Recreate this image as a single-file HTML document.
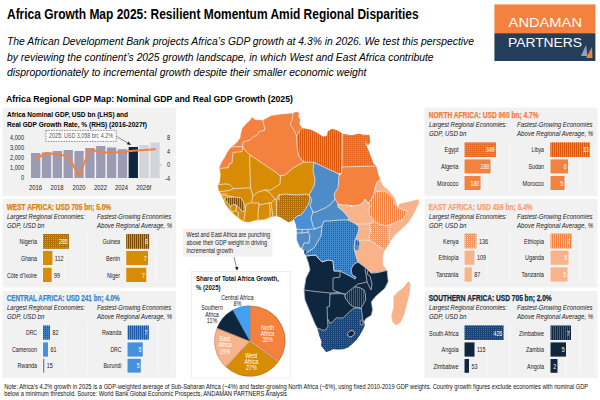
<!DOCTYPE html>
<html><head><meta charset="utf-8"><title>Africa Growth Map 2025</title>
<style>
html,body{margin:0;padding:0;background:#fff;}
body{width:600px;height:400px;overflow:hidden;font-family:"Liberation Sans", sans-serif;}
svg{display:block;font-family:"Liberation Sans", sans-serif;}
svg text{font-family:"Liberation Sans", sans-serif;}
</style></head><body>
<svg width="600" height="400" viewBox="0 0 600 400">
<defs>
</defs>
<text x="7" y="19" font-size="13.8" font-weight="bold" font-style="normal" fill="#000" text-anchor="start" textLength="411.60" lengthAdjust="spacingAndGlyphs" >Africa Growth Map 2025: Resilient Momentum Amid Regional Disparities</text>
<text x="7" y="45" font-size="11.3" font-weight="normal" font-style="italic" fill="#000" text-anchor="start" textLength="467.00" lengthAdjust="spacingAndGlyphs" >The African Development Bank projects Africa’s GDP growth at 4.3% in 2026. We test this perspective</text>
<text x="7" y="60.6" font-size="11.3" font-weight="normal" font-style="italic" fill="#000" text-anchor="start" textLength="426.60" lengthAdjust="spacingAndGlyphs" >by reviewing the continent’s 2025 growth landscape, in which West and East Africa contribute</text>
<text x="7" y="76" font-size="11.3" font-weight="normal" font-style="italic" fill="#000" text-anchor="start" textLength="359.40" lengthAdjust="spacingAndGlyphs" >disproportionately to incremental growth despite their smaller economic weight</text>
<text x="6" y="101.6" font-size="9.8" font-weight="bold" font-style="normal" fill="#000" text-anchor="start" textLength="287.00" lengthAdjust="spacingAndGlyphs" >Africa Regional GDP Map: Nominal GDP and Real GDP Growth (2025)</text>
<rect x="494.4" y="4.4" width="101" height="28.8" fill="#f5813f"/>
<rect x="494.4" y="33.2" width="101" height="27.8" fill="#243f5c"/>
<text x="508.6" y="27.3" font-size="12" font-weight="normal" font-style="normal" fill="#fff" text-anchor="start" textLength="73.40" lengthAdjust="spacingAndGlyphs" >ANDAMAN</text>
<text x="508" y="47.3" font-size="12" font-weight="normal" font-style="normal" fill="#fff" text-anchor="start" textLength="74.00" lengthAdjust="spacingAndGlyphs" >PARTNERS</text>
<polygon points="581,56 586,45 587.5,56" fill="#9aa0b4"/>
<polygon points="586,58 592,47 592.4,58" fill="#f5813f"/>
<rect x="2.5" y="107.6" width="173.4" height="88.15" fill="#f1f1f1"/>
<text x="7" y="117" font-size="7.4" font-weight="bold" font-style="normal" fill="#000" text-anchor="start" textLength="121.00" lengthAdjust="spacingAndGlyphs" >Africa Nominal GDP, USD bn (LHS) and</text>
<text x="7" y="126.6" font-size="7.4" font-weight="bold" font-style="normal" fill="#000" text-anchor="start" textLength="140.00" lengthAdjust="spacingAndGlyphs" >Real GDP Growth Rate, % (RHS) (2016-2027f)</text>
<rect x="31" y="153" width="9.3" height="25" fill="#9b9bb4"/>
<rect x="41.85" y="152.4" width="9.3" height="25.6" fill="#9b9bb4"/>
<rect x="52.7" y="151" width="9.3" height="27" fill="#9b9bb4"/>
<rect x="63.55" y="150" width="9.3" height="28" fill="#9b9bb4"/>
<rect x="74.4" y="151" width="9.3" height="27" fill="#9b9bb4"/>
<rect x="85.25" y="148" width="9.3" height="30" fill="#9b9bb4"/>
<rect x="96.1" y="146" width="9.3" height="32" fill="#9b9bb4"/>
<rect x="106.95" y="147.5" width="9.3" height="30.5" fill="#9b9bb4"/>
<rect x="117.8" y="149.2" width="9.3" height="28.8" fill="#9b9bb4"/>
<rect x="128.65" y="147" width="9.3" height="31" fill="#10253f"/>
<rect x="139.5" y="145" width="9.3" height="33" fill="#d3d3dc"/>
<rect x="150.35" y="142.5" width="9.3" height="35.5" fill="#d3d3dc"/>
<text x="24" y="140.4" font-size="6.8" font-weight="normal" font-style="normal" fill="#222" text-anchor="end" textLength="13.95" lengthAdjust="spacingAndGlyphs" class="n">4,000</text>
<text x="24" y="150.2" font-size="6.8" font-weight="normal" font-style="normal" fill="#222" text-anchor="end" textLength="13.95" lengthAdjust="spacingAndGlyphs" class="n">3,000</text>
<text x="24" y="160.2" font-size="6.8" font-weight="normal" font-style="normal" fill="#222" text-anchor="end" textLength="13.95" lengthAdjust="spacingAndGlyphs" class="n">2,000</text>
<text x="24" y="170.2" font-size="6.8" font-weight="normal" font-style="normal" fill="#222" text-anchor="end" textLength="13.95" lengthAdjust="spacingAndGlyphs" class="n">1,000</text>
<text x="24" y="180.4" font-size="6.8" font-weight="normal" font-style="normal" fill="#222" text-anchor="end" textLength="3.10" lengthAdjust="spacingAndGlyphs" class="n">0</text>
<text x="170" y="140.4" font-size="6.8" font-weight="normal" font-style="normal" fill="#222" text-anchor="end" textLength="3.10" lengthAdjust="spacingAndGlyphs" class="n">8</text>
<text x="170" y="153.7" font-size="6.8" font-weight="normal" font-style="normal" fill="#222" text-anchor="end" textLength="3.10" lengthAdjust="spacingAndGlyphs" class="n">4</text>
<text x="170" y="167.4" font-size="6.8" font-weight="normal" font-style="normal" fill="#222" text-anchor="end" textLength="3.10" lengthAdjust="spacingAndGlyphs" class="n">0</text>
<text x="170" y="180.7" font-size="6.8" font-weight="normal" font-style="normal" fill="#222" text-anchor="end" textLength="4.96" lengthAdjust="spacingAndGlyphs" class="n">-4</text>
<line x1="159.5" y1="165" x2="161.5" y2="165" stroke="#888" stroke-width="0.6"/>
<text x="35.5" y="190" font-size="6.8" font-weight="normal" font-style="normal" fill="#222" text-anchor="middle" textLength="13.00" lengthAdjust="spacingAndGlyphs" >2016</text>
<text x="57.1" y="190" font-size="6.8" font-weight="normal" font-style="normal" fill="#222" text-anchor="middle" textLength="13.00" lengthAdjust="spacingAndGlyphs" >2018</text>
<text x="79.1" y="190" font-size="6.8" font-weight="normal" font-style="normal" fill="#222" text-anchor="middle" textLength="13.00" lengthAdjust="spacingAndGlyphs" >2020</text>
<text x="100.5" y="190" font-size="6.8" font-weight="normal" font-style="normal" fill="#222" text-anchor="middle" textLength="13.00" lengthAdjust="spacingAndGlyphs" >2022</text>
<text x="121.6" y="190" font-size="6.8" font-weight="normal" font-style="normal" fill="#222" text-anchor="middle" textLength="13.00" lengthAdjust="spacingAndGlyphs" >2024</text>
<text x="143.7" y="190" font-size="6.8" font-weight="normal" font-style="normal" fill="#222" text-anchor="middle" textLength="15.00" lengthAdjust="spacingAndGlyphs" >2026f</text>
<polyline points="35.6,159 46.5,153 57.3,154.4 68.2,156 79,176 89.9,149 100.7,152.5 111.6,152.5 122.4,152 133.3,150.75 144.1,150 155,149.25" fill="none" stroke="#f5813f" stroke-width="2" stroke-linejoin="round" stroke-linecap="round"/>
<rect x="45.8" y="130.4" width="70.4" height="11" fill="#fff" stroke="#444" stroke-width="0.6" stroke-dasharray="1.6,1"/>
<text x="49" y="138.4" font-size="6.3" font-weight="normal" font-style="normal" fill="#555" text-anchor="start" textLength="64.00" lengthAdjust="spacingAndGlyphs" >2025: USD 3,058 bn; 4.2%</text>
<line x1="116.4" y1="136.5" x2="129" y2="143.6" stroke="#222" stroke-width="0.5"/>
<polygon points="131,145 126.8,144.2 128.6,141.4" fill="#111"/>
<rect x="2.5" y="199" width="173.4" height="88.5" fill="#f1f1f1"/>
<text x="6.7" y="210" font-size="8.3" font-weight="bold" font-style="normal" fill="#d9820b" text-anchor="start" textLength="104.40" lengthAdjust="spacingAndGlyphs" stroke="#d9820b" stroke-width="0.25">WEST AFRICA: USD 705 bn; 5.0%</text>
<text x="7" y="218.6" font-size="7.5" font-weight="normal" font-style="italic" fill="#222" text-anchor="start" textLength="78.00" lengthAdjust="spacingAndGlyphs" >Largest Regional Economies:</text>
<text x="7" y="228" font-size="7.5" font-weight="normal" font-style="italic" fill="#222" text-anchor="start" textLength="37.40" lengthAdjust="spacingAndGlyphs" >GDP, USD bn</text>
<text x="97" y="218.6" font-size="7.5" font-weight="normal" font-style="italic" fill="#222" text-anchor="start" textLength="74.30" lengthAdjust="spacingAndGlyphs" >Fastest-Growing Economies</text>
<text x="97" y="228" font-size="7.5" font-weight="normal" font-style="italic" fill="#222" text-anchor="start" textLength="75.10" lengthAdjust="spacingAndGlyphs" >Above Regional Average, %</text>
<line x1="43" y1="232.9" x2="43" y2="283.4" stroke="#fbfbfb" stroke-width="0.8"/>
<line x1="65.3" y1="232.9" x2="65.3" y2="283.4" stroke="#fbfbfb" stroke-width="0.8"/>
<line x1="87.7" y1="232.9" x2="87.7" y2="283.4" stroke="#fbfbfb" stroke-width="0.8"/>
<line x1="126.3" y1="232.9" x2="126.3" y2="283.4" stroke="#fbfbfb" stroke-width="0.8"/>
<line x1="141.4" y1="232.9" x2="141.4" y2="283.4" stroke="#fbfbfb" stroke-width="0.8"/>
<line x1="156.5" y1="232.9" x2="156.5" y2="283.4" stroke="#fbfbfb" stroke-width="0.8"/>
<line x1="171.5" y1="232.9" x2="171.5" y2="283.4" stroke="#fbfbfb" stroke-width="0.8"/>
<clipPath id="hc1"><polygon points="43,234 69,234 69,248.8 43,248.8"/></clipPath>
<polygon points="43,234 69,234 69,248.8 43,248.8" fill="#b57005" />
<path d="M41,233.5H71M41,235.5H71M41,237.5H71M41,239.5H71M41,241.5H71M41,243.5H71M41,245.5H71M41,247.5H71M41,249.5H71" stroke="#e8980a" stroke-width="1" stroke-dasharray="1 1" fill="none" clip-path="url(#hc1)"/>
<text x="37" y="244.1" font-size="6.4" font-weight="normal" font-style="normal" fill="#222" text-anchor="end" textLength="17.50" lengthAdjust="spacingAndGlyphs" >Nigeria</text>
<text x="67.8" y="244.1" font-size="6.6" font-weight="normal" font-style="normal" fill="#fff" text-anchor="end" textLength="8.81" lengthAdjust="spacingAndGlyphs" >285</text>
<rect x="43" y="251" width="9.4" height="14" fill="#d88c03"/>
<text x="37" y="260.7" font-size="6.4" font-weight="normal" font-style="normal" fill="#222" text-anchor="end" textLength="16.00" lengthAdjust="spacingAndGlyphs" >Ghana</text>
<text x="54.8" y="260.7" font-size="6.6" font-weight="normal" font-style="normal" fill="#222" text-anchor="start" textLength="8.63" lengthAdjust="spacingAndGlyphs" >112</text>
<rect x="43" y="267.8" width="8.6" height="14.2" fill="#d88c03"/>
<text x="37" y="277.6" font-size="6.4" font-weight="normal" font-style="normal" fill="#222" text-anchor="end" textLength="30.00" lengthAdjust="spacingAndGlyphs" >Côte d’Ivoire</text>
<text x="54" y="277.6" font-size="6.6" font-weight="normal" font-style="normal" fill="#222" text-anchor="start" textLength="6.02" lengthAdjust="spacingAndGlyphs" >99</text>
<clipPath id="hc2"><polygon points="126.25,234 149.25,234 149.25,248.8 126.25,248.8"/></clipPath>
<polygon points="126.25,234 149.25,234 149.25,248.8 126.25,248.8" fill="#e0920a" />
<path d="M124.5,233.0V249.8M126.5,233.0V249.8M128.5,233.0V249.8M130.5,233.0V249.8M132.5,233.0V249.8M134.5,233.0V249.8M136.5,233.0V249.8M138.5,233.0V249.8M140.5,233.0V249.8M142.5,233.0V249.8M144.5,233.0V249.8M146.5,233.0V249.8M148.5,233.0V249.8" stroke="#6e4100" stroke-width="0.9" fill="none" clip-path="url(#hc2)"/>
<text x="120" y="244.1" font-size="6.4" font-weight="normal" font-style="normal" fill="#222" text-anchor="end" textLength="17.50" lengthAdjust="spacingAndGlyphs" >Guinea</text>
<text x="148.05" y="244.1" font-size="6.6" font-weight="normal" font-style="normal" fill="#fff" text-anchor="end" textLength="2.94" lengthAdjust="spacingAndGlyphs" >8</text>
<rect x="126.25" y="251" width="21.75" height="14" fill="#d88c03"/>
<text x="120" y="260.7" font-size="6.4" font-weight="normal" font-style="normal" fill="#222" text-anchor="end" textLength="14.00" lengthAdjust="spacingAndGlyphs" >Benin</text>
<text x="146.8" y="260.7" font-size="6.6" font-weight="normal" font-style="normal" fill="#fff" text-anchor="end" textLength="2.94" lengthAdjust="spacingAndGlyphs" >7</text>
<rect x="126.25" y="267.8" width="20" height="14.2" fill="#d88c03"/>
<text x="120" y="277.6" font-size="6.4" font-weight="normal" font-style="normal" fill="#222" text-anchor="end" textLength="13.00" lengthAdjust="spacingAndGlyphs" >Niger</text>
<text x="145.05" y="277.6" font-size="6.6" font-weight="normal" font-style="normal" fill="#fff" text-anchor="end" textLength="2.94" lengthAdjust="spacingAndGlyphs" >7</text>
<rect x="2.5" y="291" width="173.4" height="87" fill="#f1f1f1"/>
<text x="6.7" y="301.1" font-size="8.3" font-weight="bold" font-style="normal" fill="#3d85d0" text-anchor="start" textLength="113.00" lengthAdjust="spacingAndGlyphs" stroke="#3d85d0" stroke-width="0.25">CENTRAL AFRICA: USD 241 bn; 4.0%</text>
<text x="7" y="309.7" font-size="7.5" font-weight="normal" font-style="italic" fill="#222" text-anchor="start" textLength="78.00" lengthAdjust="spacingAndGlyphs" >Largest Regional Economies:</text>
<text x="7" y="319.1" font-size="7.5" font-weight="normal" font-style="italic" fill="#222" text-anchor="start" textLength="37.40" lengthAdjust="spacingAndGlyphs" >GDP, USD bn</text>
<text x="97" y="309.7" font-size="7.5" font-weight="normal" font-style="italic" fill="#222" text-anchor="start" textLength="74.30" lengthAdjust="spacingAndGlyphs" >Fastest-Growing Economies</text>
<text x="97" y="319.1" font-size="7.5" font-weight="normal" font-style="italic" fill="#222" text-anchor="start" textLength="75.10" lengthAdjust="spacingAndGlyphs" >Above Regional Average, %</text>
<line x1="43" y1="324" x2="43" y2="374.5" stroke="#fbfbfb" stroke-width="0.8"/>
<line x1="65.3" y1="324" x2="65.3" y2="374.5" stroke="#fbfbfb" stroke-width="0.8"/>
<line x1="87.7" y1="324" x2="87.7" y2="374.5" stroke="#fbfbfb" stroke-width="0.8"/>
<line x1="127.5" y1="324" x2="127.5" y2="374.5" stroke="#fbfbfb" stroke-width="0.8"/>
<line x1="142.6" y1="324" x2="142.6" y2="374.5" stroke="#fbfbfb" stroke-width="0.8"/>
<line x1="157.75" y1="324" x2="157.75" y2="374.5" stroke="#fbfbfb" stroke-width="0.8"/>
<line x1="173" y1="324" x2="173" y2="374.5" stroke="#fbfbfb" stroke-width="0.8"/>
<clipPath id="hc3"><polygon points="43,325.6 50,325.6 50,339.6 43,339.6"/></clipPath>
<polygon points="43,325.6 50,325.6 50,339.6 43,339.6" fill="#3a80c8" />
<path d="M41,323.5H52M41,325.5H52M41,327.5H52M41,329.5H52M41,331.5H52M41,333.5H52M41,335.5H52M41,337.5H52M41,339.5H52" stroke="#1a55a0" stroke-width="1" stroke-dasharray="1 1" fill="none" clip-path="url(#hc3)"/>
<text x="37" y="335.3" font-size="6.4" font-weight="normal" font-style="normal" fill="#222" text-anchor="end" textLength="11.00" lengthAdjust="spacingAndGlyphs" >DRC</text>
<text x="52.4" y="335.3" font-size="6.6" font-weight="normal" font-style="normal" fill="#222" text-anchor="start" textLength="6.02" lengthAdjust="spacingAndGlyphs" >82</text>
<rect x="43" y="342.4" width="5" height="14.2" fill="#4690de"/>
<text x="37" y="352.2" font-size="6.4" font-weight="normal" font-style="normal" fill="#222" text-anchor="end" textLength="25.00" lengthAdjust="spacingAndGlyphs" >Cameroon</text>
<text x="50.4" y="352.2" font-size="6.6" font-weight="normal" font-style="normal" fill="#222" text-anchor="start" textLength="6.02" lengthAdjust="spacingAndGlyphs" >61</text>
<rect x="43" y="358.8" width="1.3" height="13.8" fill="#4690de"/>
<text x="37" y="368.4" font-size="6.4" font-weight="normal" font-style="normal" fill="#222" text-anchor="end" textLength="19.50" lengthAdjust="spacingAndGlyphs" >Rwanda</text>
<text x="46.7" y="368.4" font-size="6.6" font-weight="normal" font-style="normal" fill="#222" text-anchor="start" textLength="6.02" lengthAdjust="spacingAndGlyphs" >15</text>
<clipPath id="hc4"><polygon points="127.5,325.6 148.75,325.6 148.75,339.6 127.5,339.6"/></clipPath>
<polygon points="127.5,325.6 148.75,325.6 148.75,339.6 127.5,339.6" fill="#4a90e0" />
<path d="M126.5,324.6V340.6M128.5,324.6V340.6M130.5,324.6V340.6M132.5,324.6V340.6M134.5,324.6V340.6M136.5,324.6V340.6M138.5,324.6V340.6M140.5,324.6V340.6M142.5,324.6V340.6M144.5,324.6V340.6M146.5,324.6V340.6M148.5,324.6V340.6" stroke="#1c5aa8" stroke-width="1.0" fill="none" clip-path="url(#hc4)"/>
<text x="121.4" y="335.3" font-size="6.4" font-weight="normal" font-style="normal" fill="#222" text-anchor="end" textLength="19.50" lengthAdjust="spacingAndGlyphs" >Rwanda</text>
<text x="147.55" y="335.3" font-size="6.6" font-weight="normal" font-style="normal" fill="#fff" text-anchor="end" textLength="2.94" lengthAdjust="spacingAndGlyphs" >7</text>
<rect x="127.5" y="342.4" width="15.25" height="14.2" fill="#4690de"/>
<text x="121.4" y="352.2" font-size="6.4" font-weight="normal" font-style="normal" fill="#222" text-anchor="end" textLength="11.00" lengthAdjust="spacingAndGlyphs" >DRC</text>
<text x="141.55" y="352.2" font-size="6.6" font-weight="normal" font-style="normal" fill="#fff" text-anchor="end" textLength="2.94" lengthAdjust="spacingAndGlyphs" >5</text>
<rect x="127.5" y="358.8" width="13.3" height="13.8" fill="#4690de"/>
<text x="121.4" y="368.4" font-size="6.4" font-weight="normal" font-style="normal" fill="#222" text-anchor="end" textLength="18.00" lengthAdjust="spacingAndGlyphs" >Burundi</text>
<text x="139.6" y="368.4" font-size="6.6" font-weight="normal" font-style="normal" fill="#fff" text-anchor="end" textLength="2.94" lengthAdjust="spacingAndGlyphs" >5</text>
<rect x="424.5" y="107.6" width="173" height="88.15" fill="#f1f1f1"/>
<text x="428.7" y="118.4" font-size="8.3" font-weight="bold" font-style="normal" fill="#f47d3f" text-anchor="start" textLength="110.00" lengthAdjust="spacingAndGlyphs" stroke="#f47d3f" stroke-width="0.25">NORTH AFRICA: USD 960 bn; 4.7%</text>
<text x="429" y="127" font-size="7.5" font-weight="normal" font-style="italic" fill="#222" text-anchor="start" textLength="78.00" lengthAdjust="spacingAndGlyphs" >Largest Regional Economies:</text>
<text x="429" y="136.4" font-size="7.5" font-weight="normal" font-style="italic" fill="#222" text-anchor="start" textLength="37.40" lengthAdjust="spacingAndGlyphs" >GDP, USD bn</text>
<text x="517" y="127" font-size="7.5" font-weight="normal" font-style="italic" fill="#222" text-anchor="start" textLength="75.50" lengthAdjust="spacingAndGlyphs" >Fastest-Growing Economies</text>
<text x="517" y="136.4" font-size="7.5" font-weight="normal" font-style="italic" fill="#222" text-anchor="start" textLength="76.30" lengthAdjust="spacingAndGlyphs" >Above Regional Average, %</text>
<line x1="464.5" y1="141.3" x2="464.5" y2="191.8" stroke="#fbfbfb" stroke-width="0.8"/>
<line x1="487" y1="141.3" x2="487" y2="191.8" stroke="#fbfbfb" stroke-width="0.8"/>
<line x1="509.5" y1="141.3" x2="509.5" y2="191.8" stroke="#fbfbfb" stroke-width="0.8"/>
<line x1="550.5" y1="141.3" x2="550.5" y2="191.8" stroke="#fbfbfb" stroke-width="0.8"/>
<line x1="565.5" y1="141.3" x2="565.5" y2="191.8" stroke="#fbfbfb" stroke-width="0.8"/>
<line x1="580.5" y1="141.3" x2="580.5" y2="191.8" stroke="#fbfbfb" stroke-width="0.8"/>
<line x1="595.5" y1="141.3" x2="595.5" y2="191.8" stroke="#fbfbfb" stroke-width="0.8"/>
<clipPath id="hc5"><polygon points="464.5,142.4 496,142.4 496,157 464.5,157"/></clipPath>
<polygon points="464.5,142.4 496,142.4 496,157 464.5,157" fill="#ec6c25" />
<path d="M463,141.5H498M463,143.5H498M463,145.5H498M463,147.5H498M463,149.5H498M463,151.5H498M463,153.5H498M463,155.5H498M463,157.5H498" stroke="#f68c4b" stroke-width="1" stroke-dasharray="1 1" fill="none" clip-path="url(#hc5)"/>
<text x="458.5" y="152.4" font-size="6.4" font-weight="normal" font-style="normal" fill="#222" text-anchor="end" textLength="14.00" lengthAdjust="spacingAndGlyphs" >Egypt</text>
<text x="494.8" y="152.4" font-size="6.6" font-weight="normal" font-style="normal" fill="#fff" text-anchor="end" textLength="8.81" lengthAdjust="spacingAndGlyphs" >349</text>
<rect x="464.5" y="159.4" width="26" height="14" fill="#f4813e"/>
<text x="458.5" y="169.1" font-size="6.4" font-weight="normal" font-style="normal" fill="#222" text-anchor="end" textLength="17.50" lengthAdjust="spacingAndGlyphs" >Algeria</text>
<text x="489.3" y="169.1" font-size="6.6" font-weight="normal" font-style="normal" fill="#fff" text-anchor="end" textLength="8.81" lengthAdjust="spacingAndGlyphs" >288</text>
<rect x="464.5" y="176" width="16" height="14" fill="#f4813e"/>
<text x="458.5" y="185.7" font-size="6.4" font-weight="normal" font-style="normal" fill="#222" text-anchor="end" textLength="21.50" lengthAdjust="spacingAndGlyphs" >Morocco</text>
<text x="479.3" y="185.7" font-size="6.6" font-weight="normal" font-style="normal" fill="#fff" text-anchor="end" textLength="8.81" lengthAdjust="spacingAndGlyphs" >180</text>
<clipPath id="hc6"><polygon points="550.5,142.4 590,142.4 590,157 550.5,157"/></clipPath>
<polygon points="550.5,142.4 590,142.4 590,157 550.5,157" fill="#f58240" />
<path d="M548.5,141.4V158.0M550.5,141.4V158.0M552.5,141.4V158.0M554.5,141.4V158.0M556.5,141.4V158.0M558.5,141.4V158.0M560.5,141.4V158.0M562.5,141.4V158.0M564.5,141.4V158.0M566.5,141.4V158.0M568.5,141.4V158.0M570.5,141.4V158.0M572.5,141.4V158.0M574.5,141.4V158.0M576.5,141.4V158.0M578.5,141.4V158.0M580.5,141.4V158.0M582.5,141.4V158.0M584.5,141.4V158.0M586.5,141.4V158.0M588.5,141.4V158.0M590.5,141.4V158.0" stroke="#de580c" stroke-width="1.0" fill="none" clip-path="url(#hc6)"/>
<text x="544" y="152.4" font-size="6.4" font-weight="normal" font-style="normal" fill="#222" text-anchor="end" textLength="12.50" lengthAdjust="spacingAndGlyphs" >Libya</text>
<text x="588.8" y="152.4" font-size="6.6" font-weight="normal" font-style="normal" fill="#fff" text-anchor="end" textLength="5.87" lengthAdjust="spacingAndGlyphs" >13</text>
<rect x="550.5" y="159.4" width="17.5" height="14" fill="#f4813e"/>
<text x="544" y="169.1" font-size="6.4" font-weight="normal" font-style="normal" fill="#222" text-anchor="end" textLength="15.50" lengthAdjust="spacingAndGlyphs" >Sudan</text>
<text x="566.8" y="169.1" font-size="6.6" font-weight="normal" font-style="normal" fill="#fff" text-anchor="end" textLength="2.94" lengthAdjust="spacingAndGlyphs" >6</text>
<rect x="550.5" y="176" width="14" height="14" fill="#f4813e"/>
<text x="544" y="185.7" font-size="6.4" font-weight="normal" font-style="normal" fill="#222" text-anchor="end" textLength="21.50" lengthAdjust="spacingAndGlyphs" >Morocco</text>
<text x="563.3" y="185.7" font-size="6.6" font-weight="normal" font-style="normal" fill="#fff" text-anchor="end" textLength="2.94" lengthAdjust="spacingAndGlyphs" >5</text>
<rect x="424.5" y="199" width="173" height="88.5" fill="#f1f1f1"/>
<text x="428.7" y="210" font-size="8.3" font-weight="bold" font-style="normal" fill="#f4a27a" text-anchor="start" textLength="104.00" lengthAdjust="spacingAndGlyphs" stroke="#f4a27a" stroke-width="0.25">EAST AFRICA: USD 459 bn; 5.4%</text>
<text x="429" y="218.6" font-size="7.5" font-weight="normal" font-style="italic" fill="#222" text-anchor="start" textLength="78.00" lengthAdjust="spacingAndGlyphs" >Largest Regional Economies:</text>
<text x="429" y="228" font-size="7.5" font-weight="normal" font-style="italic" fill="#222" text-anchor="start" textLength="37.40" lengthAdjust="spacingAndGlyphs" >GDP, USD bn</text>
<text x="517" y="218.6" font-size="7.5" font-weight="normal" font-style="italic" fill="#222" text-anchor="start" textLength="75.50" lengthAdjust="spacingAndGlyphs" >Fastest-Growing Economies</text>
<text x="517" y="228" font-size="7.5" font-weight="normal" font-style="italic" fill="#222" text-anchor="start" textLength="76.30" lengthAdjust="spacingAndGlyphs" >Above Regional Average, %</text>
<line x1="464.5" y1="232.9" x2="464.5" y2="283.4" stroke="#fbfbfb" stroke-width="0.8"/>
<line x1="487" y1="232.9" x2="487" y2="283.4" stroke="#fbfbfb" stroke-width="0.8"/>
<line x1="509.5" y1="232.9" x2="509.5" y2="283.4" stroke="#fbfbfb" stroke-width="0.8"/>
<line x1="550.5" y1="232.9" x2="550.5" y2="283.4" stroke="#fbfbfb" stroke-width="0.8"/>
<line x1="565.5" y1="232.9" x2="565.5" y2="283.4" stroke="#fbfbfb" stroke-width="0.8"/>
<line x1="580.5" y1="232.9" x2="580.5" y2="283.4" stroke="#fbfbfb" stroke-width="0.8"/>
<line x1="595.5" y1="232.9" x2="595.5" y2="283.4" stroke="#fbfbfb" stroke-width="0.8"/>
<clipPath id="hc7"><polygon points="464.5,233.6 476.5,233.6 476.5,248.4 464.5,248.4"/></clipPath>
<polygon points="464.5,233.6 476.5,233.6 476.5,248.4 464.5,248.4" fill="#f5985f" />
<path d="M463,231.5H478M463,233.5H478M463,235.5H478M463,237.5H478M463,239.5H478M463,241.5H478M463,243.5H478M463,245.5H478M463,247.5H478" stroke="#fbcdb4" stroke-width="1" stroke-dasharray="1 1" fill="none" clip-path="url(#hc7)"/>
<text x="458.5" y="243.7" font-size="6.4" font-weight="normal" font-style="normal" fill="#222" text-anchor="end" textLength="15.50" lengthAdjust="spacingAndGlyphs" >Kenya</text>
<text x="478.9" y="243.7" font-size="6.6" font-weight="normal" font-style="normal" fill="#222" text-anchor="start" textLength="9.03" lengthAdjust="spacingAndGlyphs" >136</text>
<rect x="464.5" y="250.6" width="10" height="14.2" fill="#f8b38b"/>
<text x="458.5" y="260.4" font-size="6.4" font-weight="normal" font-style="normal" fill="#222" text-anchor="end" textLength="20.00" lengthAdjust="spacingAndGlyphs" >Ethiopia</text>
<text x="476.9" y="260.4" font-size="6.6" font-weight="normal" font-style="normal" fill="#222" text-anchor="start" textLength="9.03" lengthAdjust="spacingAndGlyphs" >109</text>
<rect x="464.5" y="267.4" width="7.3" height="14.2" fill="#f8b38b"/>
<text x="458.5" y="277.2" font-size="6.4" font-weight="normal" font-style="normal" fill="#222" text-anchor="end" textLength="22.50" lengthAdjust="spacingAndGlyphs" >Tanzania</text>
<text x="474.2" y="277.2" font-size="6.6" font-weight="normal" font-style="normal" fill="#222" text-anchor="start" textLength="6.02" lengthAdjust="spacingAndGlyphs" >87</text>
<clipPath id="hc8"><polygon points="550.5,233.6 571.5,233.6 571.5,248.4 550.5,248.4"/></clipPath>
<polygon points="550.5,233.6 571.5,233.6 571.5,248.4 550.5,248.4" fill="#f4813e" />
<path d="M549.5,232.6V249.4M551.5,232.6V249.4M553.5,232.6V249.4M555.5,232.6V249.4M557.5,232.6V249.4M559.5,232.6V249.4M561.5,232.6V249.4M563.5,232.6V249.4M565.5,232.6V249.4M567.5,232.6V249.4M569.5,232.6V249.4M571.5,232.6V249.4" stroke="#f9bc98" stroke-width="1.0" fill="none" clip-path="url(#hc8)"/>
<text x="544" y="243.7" font-size="6.4" font-weight="normal" font-style="normal" fill="#222" text-anchor="end" textLength="20.00" lengthAdjust="spacingAndGlyphs" >Ethiopia</text>
<text x="570.3" y="243.7" font-size="6.6" font-weight="normal" font-style="normal" fill="#fff" text-anchor="end" textLength="2.94" lengthAdjust="spacingAndGlyphs" >7</text>
<rect x="550.5" y="250.6" width="18" height="14.2" fill="#f8b38b"/>
<text x="544" y="260.4" font-size="6.4" font-weight="normal" font-style="normal" fill="#222" text-anchor="end" textLength="19.00" lengthAdjust="spacingAndGlyphs" >Uganda</text>
<text x="567.3" y="260.4" font-size="6.6" font-weight="normal" font-style="normal" fill="#fff" text-anchor="end" textLength="2.94" lengthAdjust="spacingAndGlyphs" >5</text>
<rect x="550.5" y="267.4" width="17" height="14.2" fill="#f8b38b"/>
<text x="544" y="277.2" font-size="6.4" font-weight="normal" font-style="normal" fill="#222" text-anchor="end" textLength="22.50" lengthAdjust="spacingAndGlyphs" >Tanzania</text>
<text x="566.3" y="277.2" font-size="6.6" font-weight="normal" font-style="normal" fill="#fff" text-anchor="end" textLength="2.94" lengthAdjust="spacingAndGlyphs" >5</text>
<rect x="424.5" y="291" width="173" height="87" fill="#f1f1f1"/>
<text x="428.7" y="301.1" font-size="8.3" font-weight="bold" font-style="normal" fill="#10253f" text-anchor="start" textLength="123.00" lengthAdjust="spacingAndGlyphs" stroke="#10253f" stroke-width="0.25">SOUTHERN AFRICA: USD 705 bn; 2.0%</text>
<text x="429" y="309.7" font-size="7.5" font-weight="normal" font-style="italic" fill="#222" text-anchor="start" textLength="78.00" lengthAdjust="spacingAndGlyphs" >Largest Regional Economies:</text>
<text x="429" y="319.1" font-size="7.5" font-weight="normal" font-style="italic" fill="#222" text-anchor="start" textLength="37.40" lengthAdjust="spacingAndGlyphs" >GDP, USD bn</text>
<text x="517" y="309.7" font-size="7.5" font-weight="normal" font-style="italic" fill="#222" text-anchor="start" textLength="75.50" lengthAdjust="spacingAndGlyphs" >Fastest-Growing Economies</text>
<text x="517" y="319.1" font-size="7.5" font-weight="normal" font-style="italic" fill="#222" text-anchor="start" textLength="76.30" lengthAdjust="spacingAndGlyphs" >Above Regional Average, %</text>
<line x1="464.5" y1="324" x2="464.5" y2="374.5" stroke="#fbfbfb" stroke-width="0.8"/>
<line x1="487" y1="324" x2="487" y2="374.5" stroke="#fbfbfb" stroke-width="0.8"/>
<line x1="509.5" y1="324" x2="509.5" y2="374.5" stroke="#fbfbfb" stroke-width="0.8"/>
<line x1="550.5" y1="324" x2="550.5" y2="374.5" stroke="#fbfbfb" stroke-width="0.8"/>
<line x1="565.5" y1="324" x2="565.5" y2="374.5" stroke="#fbfbfb" stroke-width="0.8"/>
<line x1="580.5" y1="324" x2="580.5" y2="374.5" stroke="#fbfbfb" stroke-width="0.8"/>
<line x1="595.5" y1="324" x2="595.5" y2="374.5" stroke="#fbfbfb" stroke-width="0.8"/>
<clipPath id="hc9"><polygon points="464.5,325.6 503.5,325.6 503.5,340 464.5,340"/></clipPath>
<polygon points="464.5,325.6 503.5,325.6 503.5,340 464.5,340" fill="#194478" />
<path d="M463,323.5H506M463,325.5H506M463,327.5H506M463,329.5H506M463,331.5H506M463,333.5H506M463,335.5H506M463,337.5H506M463,339.5H506" stroke="#266ebe" stroke-width="1" stroke-dasharray="1 1" fill="none" clip-path="url(#hc9)"/>
<text x="458.5" y="335.5" font-size="6.4" font-weight="normal" font-style="normal" fill="#222" text-anchor="end" textLength="29.50" lengthAdjust="spacingAndGlyphs" >South Africa</text>
<text x="502.3" y="335.5" font-size="6.6" font-weight="normal" font-style="normal" fill="#fff" text-anchor="end" textLength="8.81" lengthAdjust="spacingAndGlyphs" >426</text>
<rect x="464.5" y="342.4" width="10" height="14.2" fill="#0e273f"/>
<text x="458.5" y="352.2" font-size="6.4" font-weight="normal" font-style="normal" fill="#222" text-anchor="end" textLength="17.00" lengthAdjust="spacingAndGlyphs" >Angola</text>
<text x="476.9" y="352.2" font-size="6.6" font-weight="normal" font-style="normal" fill="#222" text-anchor="start" textLength="8.63" lengthAdjust="spacingAndGlyphs" >115</text>
<rect x="464.5" y="359" width="4.5" height="13.8" fill="#0e273f"/>
<text x="458.5" y="368.6" font-size="6.4" font-weight="normal" font-style="normal" fill="#222" text-anchor="end" textLength="25.00" lengthAdjust="spacingAndGlyphs" >Zimbabwe</text>
<text x="471.4" y="368.6" font-size="6.6" font-weight="normal" font-style="normal" fill="#222" text-anchor="start" textLength="6.02" lengthAdjust="spacingAndGlyphs" >53</text>
<clipPath id="hc10"><polygon points="550.5,325.6 571,325.6 571,340 550.5,340"/></clipPath>
<polygon points="550.5,325.6 571,325.6 571,340 550.5,340" fill="#0e273f" />
<path d="M549.5,324.6V341.0M551.5,324.6V341.0M553.5,324.6V341.0M555.5,324.6V341.0M557.5,324.6V341.0M559.5,324.6V341.0M561.5,324.6V341.0M563.5,324.6V341.0M565.5,324.6V341.0M567.5,324.6V341.0M569.5,324.6V341.0M571.5,324.6V341.0" stroke="#2464ac" stroke-width="1.0" fill="none" clip-path="url(#hc10)"/>
<text x="544" y="335.5" font-size="6.4" font-weight="normal" font-style="normal" fill="#222" text-anchor="end" textLength="25.00" lengthAdjust="spacingAndGlyphs" >Zimbabwe</text>
<text x="569.8" y="335.5" font-size="6.6" font-weight="normal" font-style="normal" fill="#fff" text-anchor="end" textLength="2.94" lengthAdjust="spacingAndGlyphs" >7</text>
<rect x="550.5" y="342.4" width="15.5" height="14.2" fill="#0e273f"/>
<text x="544" y="352.2" font-size="6.4" font-weight="normal" font-style="normal" fill="#222" text-anchor="end" textLength="18.00" lengthAdjust="spacingAndGlyphs" >Zambia</text>
<text x="564.8" y="352.2" font-size="6.6" font-weight="normal" font-style="normal" fill="#fff" text-anchor="end" textLength="2.94" lengthAdjust="spacingAndGlyphs" >5</text>
<rect x="550.5" y="359" width="7" height="13.8" fill="#0e273f"/>
<text x="544" y="368.6" font-size="6.4" font-weight="normal" font-style="normal" fill="#222" text-anchor="end" textLength="17.00" lengthAdjust="spacingAndGlyphs" >Angola</text>
<text x="556.3" y="368.6" font-size="6.6" font-weight="normal" font-style="normal" fill="#fff" text-anchor="end" textLength="2.94" lengthAdjust="spacingAndGlyphs" >2</text>
<g stroke-linejoin="round">
<polygon points="252,117.6 255,120 263,120.6 271,116 281,114.4 293,113.6 296,112 299,113 298,116 300,120 299,124 302,128 300,130 303,128.6 311,130 317,133 323,137 327,136 328,131.6 332,129 338,131 342.4,134 351,135.6 359,134 363,135 369,135 370,142 368,145 364,139.6 368,150 372,160 373,163.6 376,166 378,174 380,180 377,182 375,188 374,194 371,200 368,203 365,199 363,203 359,205 353,206 347,205 343,205 338,204 335,199 334,194 338,188 339,176 341.4,173.6 338,173.6 314,162.4 304,162 293,168 285,175 280,176 277,173 250,155 244,149 242.6,146.4 242,151.6 233,152.4 232,163 229,163.6 228.6,167.6 219.3,168.4 221.9,161.9 224.9,157.5 227.5,152.25 230.65,147.9 234.5,144.9 238,141.4 240.6,137.4 241,133.9 242.4,128.6 245.9,124.25 249.9,120.75" fill="#f4813e" stroke="#f4813e" stroke-width="0.5"/>
<polygon points="220,168.4 228.6,167.6 229,163.6 232,163 233,152.4 242,151.6 242.6,146.4 244,149 250,155 277,173 280,176 285,175 293,168 304,162 314,162.4 313,170 315,180 314,186 309,195 310,197 309,203 305,210 301,215 297,216 293,220 289,222 285,220 280,216.6 277.6,215.75 271.5,216.6 264.5,219.25 255.75,220.1 248.75,221.9 243.5,221.35 238.25,217.5 233.9,214 229.5,209.6 226,204.4 223.4,199.1 221.6,194.75 219,190.4 218.1,186 219.9,182.5 220.75,175.5" fill="#d88c03" stroke="#d88c03" stroke-width="0.5"/>
<polygon points="314,162.4 338,173.6 339,176 338,188 334,194 335,199 338,204 338,207 343,211 349,218 348,220 356,224 359,227 358,233 356,239 359,241 359.5,245 358,250 355,250 354,248 356,256 358,262 354,264 351,269 352,275 356,277 355,279 350,276 344,273 340,271 334,271 333,261 328,260 322,262 318,258 316,255 306,256 306,253 302,248 300,247 297,240 297,233 297,229 296,224 294,219 293,220 297,216 301,215 305,210 309,203 310,197 309,195 314,186 315,180 313,170" fill="#4e8cc7" stroke="#4e8cc7" stroke-width="0.5"/>
<polygon points="380,180 383,186 389,191 394,197 395,200 397.6,207.5 400,204 409,202 418.4,199.6 418.8,203 414,213 409,221.5 402,228.5 395,234.6 390.6,240.75 387.4,246 384.2,250.4 382.6,256.9 382.9,264.7 386.5,270.3 377,272.6 371,273 366,268 358,262 356,256 354,248 355,250 358,250 359.5,245 359,241 356,239 358,233 359,227 356,224 348,220 349,218 343,211 338,207 338,204 343,205 347,205 353,206 359,205 363,203 365,199 368,203 371,200 374,194 375,188 377,182" fill="#f8b38b" stroke="#f8b38b" stroke-width="0.5"/>
<polygon points="408.4,281.6 410.2,283.8 409.5,292.8 407.3,301.8 404,314.2 400.6,322 396,325 392.7,322 391.6,315.3 393.8,307.4 393.8,296.2 398.3,291.7 404,287.2 407.3,282.7" fill="#f8b38b" stroke="#f8b38b" stroke-width="0.5"/>
<polygon points="306,256 316,255 318,258 322,262 328,260 333,261 334,271 340,271 344,273 350,276 355,279 356,277 352,275 351,269 354,264 358,262 366,268 371,273 377,272.6 387,270.3 388.2,281.6 384.8,288.3 375.8,296.2 371.3,301.8 372.5,309.7 371.3,315.3 365.7,318.7 364.6,321 363.9,322.4 364.6,325.2 362.5,330.1 359.7,335 356.2,339.9 352,344.1 348.5,346.9 343.6,349 338,349.3 333.1,349 329.6,350.7 326.1,351.8 323.3,348.3 321.2,345.5 321.9,342 319.8,336.4 317.7,328.7 315,324 310,312 305,300 304,290 306,278 310,270 308.5,263" fill="#0e273f" stroke="#aeb4bd" stroke-width="0.7"/>
<polygon points="304.5,251 306.5,252 306.2,254.6 304.8,253.8" fill="#0e273f" stroke="#0e273f" stroke-width="0.5"/>
<clipPath id="hc11"><polygon points="300,130 303,128.6 311,130 317,133 323,137 327,136 328,131.6 332,129 338,131 342.4,134 342,167 341.4,173.6 338,173.6 314,162.4 304,162 298.6,156 297,146 296.5,136"/></clipPath>
<polygon points="300,130 303,128.6 311,130 317,133 323,137 327,136 328,131.6 332,129 338,131 342.4,134 342,167 341.4,173.6 338,173.6 314,162.4 304,162 298.6,156 297,146 296.5,136" fill="#f58240" />
<path d="M294.5,127.6V174.6M296.5,127.6V174.6M298.5,127.6V174.6M300.5,127.6V174.6M302.5,127.6V174.6M304.5,127.6V174.6M306.5,127.6V174.6M308.5,127.6V174.6M310.5,127.6V174.6M312.5,127.6V174.6M314.5,127.6V174.6M316.5,127.6V174.6M318.5,127.6V174.6M320.5,127.6V174.6M322.5,127.6V174.6M324.5,127.6V174.6M326.5,127.6V174.6M328.5,127.6V174.6M330.5,127.6V174.6M332.5,127.6V174.6M334.5,127.6V174.6M336.5,127.6V174.6M338.5,127.6V174.6M340.5,127.6V174.6M342.5,127.6V174.6" stroke="#de580c" stroke-width="1.0" fill="none" clip-path="url(#hc11)"/>
<clipPath id="hc12"><polygon points="342.4,134 351,135.6 359,134 363,135 369,135 370,142 368,145 364,139.6 368,150 372,160 373,163.6 376,166 342,167"/></clipPath>
<polygon points="342.4,134 351,135.6 359,134 363,135 369,135 370,142 368,145 364,139.6 368,150 372,160 373,163.6 376,166 342,167" fill="#ec6c25" />
<path d="M341,133.5H378M341,135.5H378M341,137.5H378M341,139.5H378M341,141.5H378M341,143.5H378M341,145.5H378M341,147.5H378M341,149.5H378M341,151.5H378M341,153.5H378M341,155.5H378M341,157.5H378M341,159.5H378M341,161.5H378M341,163.5H378M341,165.5H378M341,167.5H378" stroke="#f68c4b" stroke-width="1" stroke-dasharray="1 1" fill="none" clip-path="url(#hc12)"/>
<clipPath id="hc13"><polygon points="279,195 285,194 297,195 307,194 310,197 309,203 305,210 301,215 297,216 293,220 289,222 285,220 280,217 276.6,216 276.6,206 279,200"/></clipPath>
<polygon points="279,195 285,194 297,195 307,194 310,197 309,203 305,210 301,215 297,216 293,220 289,222 285,220 280,217 276.6,216 276.6,206 279,200" fill="#b57005" />
<path d="M275,193.5H312M275,195.5H312M275,197.5H312M275,199.5H312M275,201.5H312M275,203.5H312M275,205.5H312M275,207.5H312M275,209.5H312M275,211.5H312M275,213.5H312M275,215.5H312M275,217.5H312M275,219.5H312M275,221.5H312" stroke="#e8980a" stroke-width="1" stroke-dasharray="1 1" fill="none" clip-path="url(#hc13)"/>
<clipPath id="hc14"><polygon points="223.9,199.1 226.9,197.4 233,196.85 240.9,197.9 243.5,201.75 244.4,206.1 245.25,210.85 241.75,211.4 240,208.75 236.5,205.25 233.9,204.4 230.4,206.1 227.75,203.5 226,200.9"/></clipPath>
<polygon points="223.9,199.1 226.9,197.4 233,196.85 240.9,197.9 243.5,201.75 244.4,206.1 245.25,210.85 241.75,211.4 240,208.75 236.5,205.25 233.9,204.4 230.4,206.1 227.75,203.5 226,200.9" fill="#e0920a" />
<path d="M222.5,195.8V212.4M224.5,195.8V212.4M226.5,195.8V212.4M228.5,195.8V212.4M230.5,195.8V212.4M232.5,195.8V212.4M234.5,195.8V212.4M236.5,195.8V212.4M238.5,195.8V212.4M240.5,195.8V212.4M242.5,195.8V212.4M244.5,195.8V212.4" stroke="#6e4100" stroke-width="0.9" fill="none" clip-path="url(#hc14)"/>
<polygon points="294,219 297,216 301,215 305,210 309,203 310,197 309,195 312,200 310,205 312,210 313,212 311,218 313,226 315,229 302,229.6 297,229 296,224" fill="#4a90d8" />
<clipPath id="hc15"><polygon points="324,221 330,221 340,220 348,220 356,224 359,227 358,233 355,240 354,248 356,256 358,262 354,264 351,269 352,275 356,277 355,279 350,276 344,273 340,271 334,271 333,261 328,260 322,262 318,258 316,255 306,256 306,253 314,248 321,236 322,226"/></clipPath>
<polygon points="324,221 330,221 340,220 348,220 356,224 359,227 358,233 355,240 354,248 356,256 358,262 354,264 351,269 352,275 356,277 355,279 350,276 344,273 340,271 334,271 333,261 328,260 322,262 318,258 316,255 306,256 306,253 314,248 321,236 322,226" fill="#4088cc" />
<path d="M305,219.5H361M305,221.5H361M305,223.5H361M305,225.5H361M305,227.5H361M305,229.5H361M305,231.5H361M305,233.5H361M305,235.5H361M305,237.5H361M305,239.5H361M305,241.5H361M305,243.5H361M305,245.5H361M305,247.5H361M305,249.5H361M305,251.5H361M305,253.5H361M305,255.5H361M305,257.5H361M305,259.5H361M305,261.5H361M305,263.5H361M305,265.5H361M305,267.5H361M305,269.5H361M305,271.5H361M305,273.5H361M305,275.5H361M305,277.5H361M305,279.5H361" stroke="#1e5fa5" stroke-width="1" stroke-dasharray="1 1" fill="none" clip-path="url(#hc15)"/>
<clipPath id="hc16"><polygon points="355.2,241 358.8,240.8 359.4,244.6 355.6,245.4"/></clipPath>
<polygon points="355.2,241 358.8,240.8 359.4,244.6 355.6,245.4" fill="#4a90e0" />
<path d="M354.5,239.8V246.4M356.5,239.8V246.4M358.5,239.8V246.4" stroke="#1c5aa8" stroke-width="1.0" fill="none" clip-path="url(#hc16)"/>
<polygon points="355.4,245.8 359,245.2 358.2,250 355.2,250" fill="#4a90d8" />
<clipPath id="hc17"><polygon points="368,203 371,200 374,194 377.5,191.75 383,191 388,192.6 393,198 395,200.5 397.6,208 408,212 402,219.75 391.5,224 386,226 379,224 374,221.5 369.6,215 368,210 370.5,205.75"/></clipPath>
<polygon points="368,203 371,200 374,194 377.5,191.75 383,191 388,192.6 393,198 395,200.5 397.6,208 408,212 402,219.75 391.5,224 386,226 379,224 374,221.5 369.6,215 368,210 370.5,205.75" fill="#f4813e" />
<path d="M367.5,190.0V227.0M369.5,190.0V227.0M371.5,190.0V227.0M373.5,190.0V227.0M375.5,190.0V227.0M377.5,190.0V227.0M379.5,190.0V227.0M381.5,190.0V227.0M383.5,190.0V227.0M385.5,190.0V227.0M387.5,190.0V227.0M389.5,190.0V227.0M391.5,190.0V227.0M393.5,190.0V227.0M395.5,190.0V227.0M397.5,190.0V227.0M399.5,190.0V227.0M401.5,190.0V227.0M403.5,190.0V227.0M405.5,190.0V227.0M407.5,190.0V227.0" stroke="#f9bc98" stroke-width="1.0" fill="none" clip-path="url(#hc17)"/>
<clipPath id="hc18"><polygon points="369.6,224 374,221.5 379,224 386,226 389,227.6 389,240.75 390.6,240.75 387.4,246 384.2,250.4 383,249.5 370.5,240.75 368.75,237.25 370.5,232"/></clipPath>
<polygon points="369.6,224 374,221.5 379,224 386,226 389,227.6 389,240.75 390.6,240.75 387.4,246 384.2,250.4 383,249.5 370.5,240.75 368.75,237.25 370.5,232" fill="#f5985f" />
<path d="M367,219.5H393M367,221.5H393M367,223.5H393M367,225.5H393M367,227.5H393M367,229.5H393M367,231.5H393M367,233.5H393M367,235.5H393M367,237.5H393M367,239.5H393M367,241.5H393M367,243.5H393M367,245.5H393M367,247.5H393M367,249.5H393" stroke="#fbcdb4" stroke-width="1" stroke-dasharray="1 1" fill="none" clip-path="url(#hc18)"/>
<clipPath id="hc19"><polygon points="354.8,286.6 359.75,287.6 364,289.8 365.2,293.25 365.75,300 363.5,303.75 361.1,308.4 357.6,307.7 353.4,306.75 350,304.5 347,300.5 345,297.8 345,294.3 348.8,291.2 352.6,288.2"/></clipPath>
<polygon points="354.8,286.6 359.75,287.6 364,289.8 365.2,293.25 365.75,300 363.5,303.75 361.1,308.4 357.6,307.7 353.4,306.75 350,304.5 347,300.5 345,297.8 345,294.3 348.8,291.2 352.6,288.2" fill="#0e273f" />
<path d="M343.5,285.6V309.4M345.5,285.6V309.4M347.5,285.6V309.4M349.5,285.6V309.4M351.5,285.6V309.4M353.5,285.6V309.4M355.5,285.6V309.4M357.5,285.6V309.4M359.5,285.6V309.4M361.5,285.6V309.4M363.5,285.6V309.4M365.5,285.6V309.4" stroke="#2464ac" stroke-width="1.0" fill="none" clip-path="url(#hc19)"/>
<clipPath id="hc20"><polygon points="317.7,328.7 319.8,328.7 321.9,330.1 325.4,330.1 327.9,326.6 328.2,319.6 329.6,323.1 332.4,322.4 334.5,319.6 337.3,317.5 340.1,318.2 343.6,317.5 347.1,314 349.9,311.2 353.4,308.4 357.6,307.7 361.1,308.4 362.1,314 362.5,318.9 363.9,322.4 364.6,325.2 362.5,330.1 359.7,335 356.2,339.9 352,344.1 348.5,346.9 343.6,349 338,349.3 333.1,349 329.6,350.7 326.1,351.8 323.3,348.3 321.2,345.5 321.9,342 319.8,336.4"/></clipPath>
<polygon points="317.7,328.7 319.8,328.7 321.9,330.1 325.4,330.1 327.9,326.6 328.2,319.6 329.6,323.1 332.4,322.4 334.5,319.6 337.3,317.5 340.1,318.2 343.6,317.5 347.1,314 349.9,311.2 353.4,308.4 357.6,307.7 361.1,308.4 362.1,314 362.5,318.9 363.9,322.4 364.6,325.2 362.5,330.1 359.7,335 356.2,339.9 352,344.1 348.5,346.9 343.6,349 338,349.3 333.1,349 329.6,350.7 326.1,351.8 323.3,348.3 321.2,345.5 321.9,342 319.8,336.4" fill="#194478" />
<path d="M315,305.5H367M315,307.5H367M315,309.5H367M315,311.5H367M315,313.5H367M315,315.5H367M315,317.5H367M315,319.5H367M315,321.5H367M315,323.5H367M315,325.5H367M315,327.5H367M315,329.5H367M315,331.5H367M315,333.5H367M315,335.5H367M315,337.5H367M315,339.5H367M315,341.5H367M315,343.5H367M315,345.5H367M315,347.5H367M315,349.5H367M315,351.5H367" stroke="#266ebe" stroke-width="1" stroke-dasharray="1 1" fill="none" clip-path="url(#hc20)"/>
<g fill="none" stroke="#e4e0d8" stroke-width="0.85" stroke-linecap="round">
<polyline points="231,147 242.6,146.4" />
<polyline points="263,120.6 264,126 265,130 259,131.6 257.4,135 253,137 250,140 243,142 242.6,146.4" />
<polyline points="242.6,146.4 242,151.6 233,152.4 232,163 229,163.6 228.6,167.6 220,168.4" />
<polyline points="242.6,146.4 244,149 250,155 277,173 280,176 285,175 293,168 304,162" />
<polyline points="293,113.6 292,120 290,124 294,130 296.5,136 300,130" />
<polyline points="296.5,136 297,146 298.6,156 304,162" />
<polyline points="304,162 314,162.4 338,173.6 341.4,173.6 342,167" />
<polyline points="342.4,134 342,167" />
<polyline points="342,167 376,166" />
<polyline points="341.4,173.6 339,176 338,188 334,194 335,199 338,204" />
<polyline points="338,204 343,205 347,205 353,206 359,205 363,203 365,199 368,203" />
<polyline points="368,203 371,200 374,194 375,188 377,182 380,180" />
<polyline points="375,189 377.5,191.75 383,191 388,192.6 393,198 395,200.5" />
<polyline points="395,200.5 394,203 397.6,207.5" />
<polyline points="397.6,207.5 408,212 402,219.75 391.5,224" />
<polyline points="391.5,224 386,226 379,224 374,221.5 369.6,224" />
<polyline points="368,203 370.5,205.75 368,210 369.6,215 374,221.5" />
<polyline points="391.5,224 389,227.6 389,240.75 390.6,240.75" />
<polyline points="369.6,224 370.5,232 368.75,237.25 370.5,240.75" />
<polyline points="356,224 363,224 369.6,224" />
<polyline points="370.5,240.75 383.6,249.5 385.4,250.4" />
<polyline points="359,241 364,240 370.5,240.75" />
<polyline points="338,204 338,207 343,211 349,218 348,220 356,224" />
<polyline points="356,224 359,227 358,233 355,240 354,248 356,256 358,262" />
<polyline points="358,262 366,268 371,273 377,272.6 387,270.3" stroke="#b9bcc2" stroke-width="0.8"/>
<polyline points="250,155 249.6,160 250.5,187.75 233.9,188.6 229.5,184.3 225,184 218.5,184.5" />
<polyline points="219.5,191.5 224,191.2 229,190.5 233.9,188.6" />
<polyline points="220,193.9 227,193.9" />
<polyline points="221.5,196 226.9,195.6 233,196.85" />
<polyline points="223.9,199.1 226.9,197.4 233,196.85 240.9,197.9 243.5,201.75 244.4,206.1 245.25,210.85 241.75,211.4 240,208.75 236.5,205.25 233.9,204.4 230.4,206.1 227.75,203.5 226,200.9 223.9,199.1" />
<polyline points="230.4,206.1 230.2,209.6 233,211.8 236,210.5 236.5,205.25" />
<polyline points="236,210.5 238.5,212.5 238.25,217.5" />
<polyline points="250.5,187.75 253,196 251.4,202.6 246.1,204.4 245.25,210.85 243.8,221.2" />
<polyline points="253,196 258,192 265,190 271,190 280,184 280.6,175 280,176" />
<polyline points="252,203 259,203 259,205 269,203 271,203 275,199 276,200 279,195" />
<polyline points="265,190 269,192 275,199" />
<polyline points="259,205 258,212 258,221" />
<polyline points="269,203 270,210 270,217.5" />
<polyline points="271,203 272,210 273,217" />
<polyline points="276,200 276.6,206 276.6,216" />
<polyline points="279,195 285,194 297,195 307,194 310,197 309,203 305,210 301,215 297,216 293,220" />
<polyline points="279,200 279,195" />
<polyline points="314,162.4 313,170 315,180 314,186 309,195 312,200 310,205 312,210 313,212" />
<polyline points="313,212 315,212.4 325,208 331,204 335,199" />
<polyline points="313,212 311,218 313,226 315,229 302,229.6 297,229" />
<polyline points="297,233 302,233 302,229.6" />
<polyline points="302,233 308,232 310,236 309,243 304,243 302,248" />
<polyline points="308,232 308.5,229.6" />
<polyline points="315,229 322,226 324,221 330,221 340,220 348,220" />
<polyline points="322,226 321,236 314,248 306,253" />
<polyline points="306,256 316,255 318,258 322,262 328,260 333,261 334,271 340,271" />
<polyline points="340,271 340,277 333,278 333,290 339,292.4" stroke="#b9bcc2" stroke-width="0.8"/>
<polyline points="340,271 344,273 350,276 355,279 356,277 352,275 351,269 354,264 358,262" stroke="#b9bcc2" stroke-width="0.8"/>
<polyline points="304,290 316,291.6 330,293 339,292.4 345,294.3" stroke="#b9bcc2" stroke-width="0.8"/>
<polyline points="330,294 342,293.6 345,294.3" stroke="#b9bcc2" stroke-width="0.8"/>
<polyline points="330,294 329.5,306.3 327.1,307 327.5,319.6 327.9,326.6 325.4,330.1 321.9,330.1 319.8,328.7 317.7,328.7" stroke="#b9bcc2" stroke-width="0.8"/>
<polyline points="328.2,319.6 329.6,323.1 332.4,322.4 334.5,319.6 337.3,317.5 340.1,318.2 343.6,317.5 347.1,314 349.9,311.2 353.4,308.4 357.6,307.7 361.1,308.4" stroke="#b9bcc2" stroke-width="0.8"/>
<polyline points="354.8,286.6 359.75,287.6 364,289.8 365.2,293.25 365.75,300 363.5,303.75 361.1,308.4 357.6,307.7 353.4,306.75 350,304.5 347,300.5 345,297.8 345,294.3 348.8,291.2 352.6,288.2 354.8,286.6" stroke="#b9bcc2" stroke-width="0.8"/>
<polyline points="354.8,286.6 358,284 367,282 366,274 365,270 366,268" stroke="#b9bcc2" stroke-width="0.8"/>
<polyline points="366,268 368,270 367,274 370,276 372,284 371,290 369,286 367,282" stroke="#b9bcc2" stroke-width="0.8"/>
<polyline points="361.1,308.4 362.1,314 362.5,318.9 363.9,322.4" stroke="#b9bcc2" stroke-width="0.8"/>
</g>
<circle cx="351.4" cy="206" r="1" fill="#fff"/>
<ellipse cx="351" cy="333.7" rx="3.7" ry="2.9" fill="#0e273f" stroke="#c4c6ca" stroke-width="0.8" transform="rotate(-35 351 333.7)"/>
<polygon points="360.2,320.4 362.4,320.2 363,324.8 360.4,324.8" fill="#0e273f" stroke="#c4c6ca" stroke-width="0.6"/>
</g>
<rect x="183" y="228.6" width="89.4" height="28" fill="#f1f1f1"/>
<text x="186.6" y="237" font-size="6.7" font-weight="normal" font-style="normal" fill="#222" text-anchor="start" textLength="83.40" lengthAdjust="spacingAndGlyphs" >West and East Africa are punching</text>
<text x="186.6" y="245" font-size="6.7" font-weight="normal" font-style="normal" fill="#222" text-anchor="start" textLength="80.40" lengthAdjust="spacingAndGlyphs" >above their GDP weight in driving</text>
<text x="186.6" y="252.8" font-size="6.7" font-weight="normal" font-style="normal" fill="#222" text-anchor="start" textLength="46.40" lengthAdjust="spacingAndGlyphs" >incremental growth</text>
<line x1="234" y1="257" x2="236.6" y2="268" stroke="#222" stroke-width="0.5"/>
<polygon points="237.2,270.6 235,267.4 238.4,266.8" fill="#111"/>
<rect x="191.4" y="271.4" width="99" height="106.6" fill="#fff" stroke="#e4e4e4" stroke-width="0.6"/>
<text x="196" y="281" font-size="7.4" font-weight="bold" font-style="normal" fill="#111" text-anchor="start" textLength="83.00" lengthAdjust="spacingAndGlyphs" >Share of Total Africa Growth,</text>
<text x="196" y="290.4" font-size="7.4" font-weight="bold" font-style="normal" fill="#111" text-anchor="start" textLength="24.60" lengthAdjust="spacingAndGlyphs" >% (2025)</text>
<path d="M250.39,340.75 L250.39,305.95 A34.8,34.8 0 0 1 278.54,361.21 Z" fill="#f4813e" stroke="#9a4a1c" stroke-width="0.45" stroke-linejoin="round"/>
<path d="M249.95,341.55 L278.11,362.00 A34.8,34.8 0 0 1 226.13,366.92 Z" fill="#d88c03" stroke="#85520a" stroke-width="0.45" stroke-linejoin="round"/>
<path d="M249.36,341.12 L225.54,366.49 A34.8,34.8 0 0 1 217.01,328.31 Z" fill="#f8b38b" stroke="#a8623c" stroke-width="0.45" stroke-linejoin="round"/>
<path d="M249.49,340.64 L217.13,327.83 A34.8,34.8 0 0 1 232.72,310.14 Z" fill="#0e273f" stroke="#0a1828" stroke-width="0.45" stroke-linejoin="round"/>
<path d="M249.76,340.47 L233.00,309.97 A34.8,34.8 0 0 1 249.76,305.67 Z" fill="#42a0f5" stroke="#2a68a8" stroke-width="0.45" stroke-linejoin="round"/>
<text x="237.3" y="299.6" font-size="6.7" font-weight="normal" font-style="normal" fill="#222" text-anchor="middle" textLength="32.17" lengthAdjust="spacingAndGlyphs" >Central Africa</text>
<text x="237.3" y="305.9" font-size="6.7" font-weight="normal" font-style="normal" fill="#222" text-anchor="middle" textLength="7.75" lengthAdjust="spacingAndGlyphs" >8%</text>
<text x="212" y="310.2" font-size="6.7" font-weight="normal" font-style="normal" fill="#222" text-anchor="middle" textLength="21.75" lengthAdjust="spacingAndGlyphs" >Southern</text>
<text x="212" y="316.5" font-size="6.7" font-weight="normal" font-style="normal" fill="#222" text-anchor="middle" textLength="13.70" lengthAdjust="spacingAndGlyphs" >Africa</text>
<text x="212" y="322.8" font-size="6.7" font-weight="normal" font-style="normal" fill="#222" text-anchor="middle" textLength="10.33" lengthAdjust="spacingAndGlyphs" >11%</text>
<text x="267.5" y="329.7" font-size="6.7" font-weight="normal" font-style="normal" fill="#fff" text-anchor="middle" textLength="13.11" lengthAdjust="spacingAndGlyphs" >North</text>
<text x="267.5" y="336" font-size="6.7" font-weight="normal" font-style="normal" fill="#fff" text-anchor="middle" textLength="13.70" lengthAdjust="spacingAndGlyphs" >Africa</text>
<text x="267.5" y="342.3" font-size="6.7" font-weight="normal" font-style="normal" fill="#fff" text-anchor="middle" textLength="10.73" lengthAdjust="spacingAndGlyphs" >35%</text>
<text x="251.3" y="357.7" font-size="6.7" font-weight="normal" font-style="normal" fill="#fff" text-anchor="middle" textLength="12.11" lengthAdjust="spacingAndGlyphs" >West</text>
<text x="251.3" y="364" font-size="6.7" font-weight="normal" font-style="normal" fill="#fff" text-anchor="middle" textLength="13.70" lengthAdjust="spacingAndGlyphs" >Africa</text>
<text x="251.3" y="370.3" font-size="6.7" font-weight="normal" font-style="normal" fill="#fff" text-anchor="middle" textLength="10.73" lengthAdjust="spacingAndGlyphs" >27%</text>
<text x="225" y="341" font-size="6.7" font-weight="normal" font-style="normal" fill="#fff" text-anchor="middle" textLength="10.73" lengthAdjust="spacingAndGlyphs" >East</text>
<text x="225" y="347.3" font-size="6.7" font-weight="normal" font-style="normal" fill="#fff" text-anchor="middle" textLength="13.70" lengthAdjust="spacingAndGlyphs" >Africa</text>
<text x="225" y="353.6" font-size="6.7" font-weight="normal" font-style="normal" fill="#fff" text-anchor="middle" textLength="10.73" lengthAdjust="spacingAndGlyphs" >19%</text>
<text x="4.2" y="388.8" font-size="6.5" font-weight="normal" font-style="normal" fill="#111" text-anchor="start" textLength="584.00" lengthAdjust="spacingAndGlyphs" >Note: Africa’s 4.2% growth in 2025 is a GDP-weighted average of Sub-Saharan Africa (~4%) and faster-growing North Africa (~6%), using fixed 2010-2019 GDP weights. Country growth figures exclude economies with nominal GDP</text>
<text x="4.2" y="396.3" font-size="6.5" font-weight="normal" font-style="normal" fill="#111" text-anchor="start" textLength="282.80" lengthAdjust="spacingAndGlyphs" >below a minimum threshold. Source: World Bank Global Economic Prospects, ANDAMAN PARTNERS Analysis</text>
</svg>
</body></html>
